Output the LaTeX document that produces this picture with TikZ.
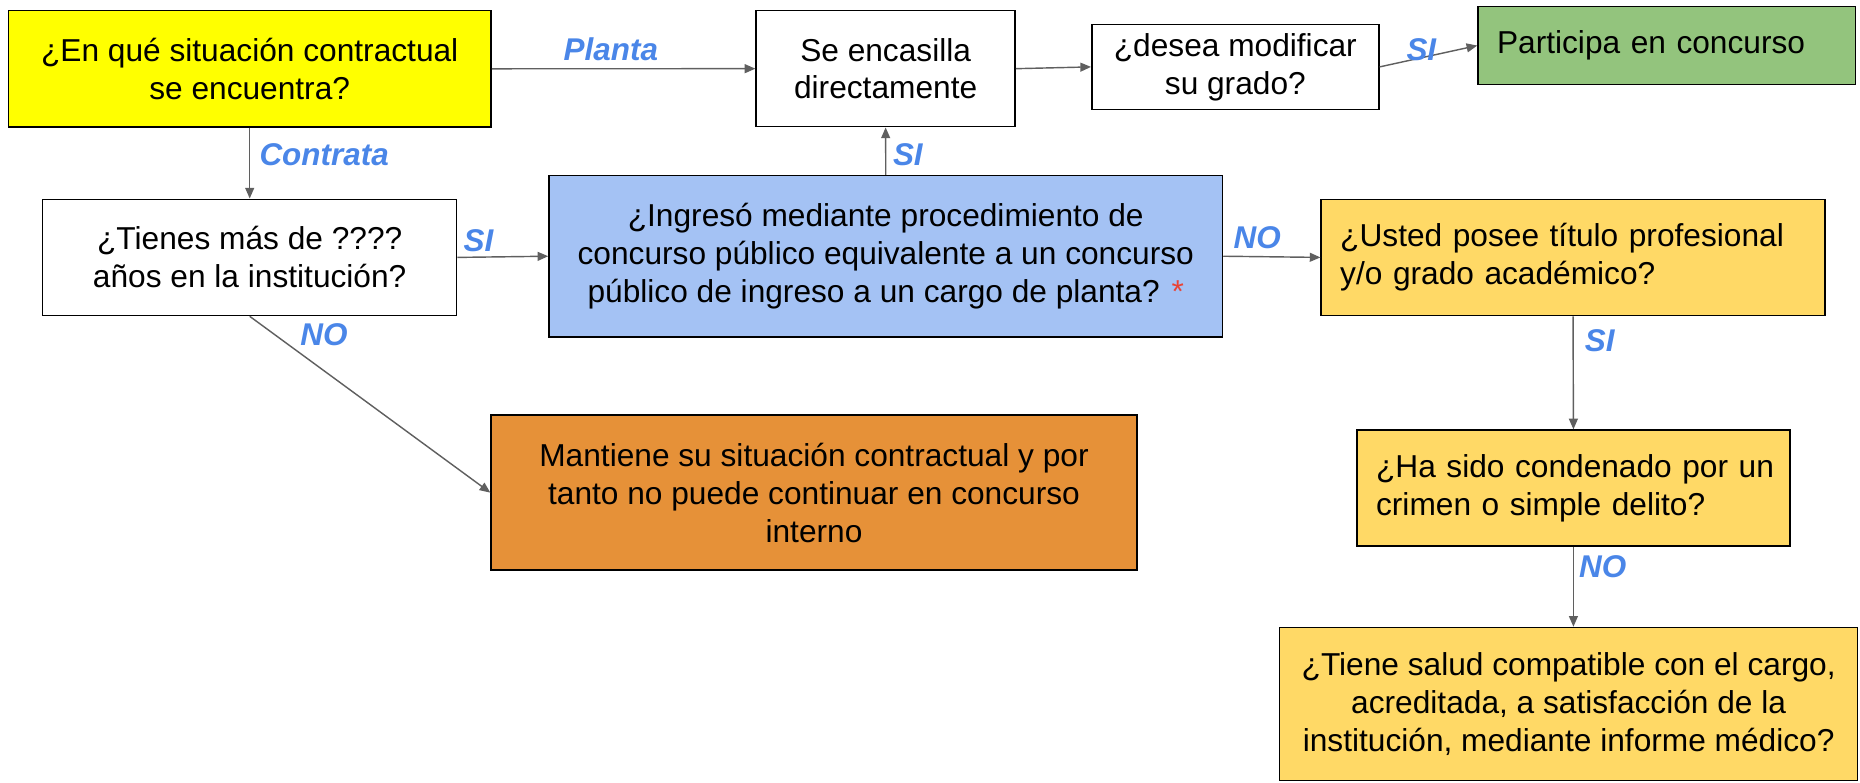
\documentclass[tikz,border=0pt]{standalone}
\usepackage{fontspec}
\setmainfont{Liberation Sans}
\usetikzlibrary{arrows.meta}
\definecolor{cyel}{HTML}{FFFF00}
\definecolor{cblue}{HTML}{A4C2F4}
\definecolor{corange}{HTML}{E69138}
\definecolor{cgold}{HTML}{FFD966}
\definecolor{cgreen}{HTML}{93C47D}
\definecolor{clabel}{HTML}{4A86E8}
\definecolor{carrow}{HTML}{5F5F5F}
\definecolor{cstar}{HTML}{EA4335}
\begin{document}
\begin{tikzpicture}[x=1pt,y=-1pt,
  font=\fontsize{26.7}{32}\selectfont,
  box/.style={draw=black, line width=1.3pt, rectangle, inner sep=0pt, align=center},
  lbox/.style={box, align=left, inner xsep=16pt, inner ysep=0pt},
  conn/.style={draw=carrow, line width=1.2pt, -{Triangle[length=9pt,width=7.5pt]}},
  lbl/.style={text=clabel, font=\fontsize{26.5}{32}\selectfont\bfseries\itshape, anchor=base west, inner sep=0pt}
]
\useasboundingbox (0,0) rectangle (1568,660);

% boxes
\node[box, fill=cyel, minimum width=407pt, minimum height=98pt] (ya) at (210.5,58) {¿En qué situación contractual\\se encuentra?};
\node[box, fill=white, minimum width=218.3pt, minimum height=97.8pt] (se) at (746.6,57.9) {Se encasilla\\directamente};
\node[box, fill=white, minimum width=242pt, minimum height=71.7pt] (desea) at (1041.4,56.4) {¿desea modificar\\su grado?};
\node[lbox, fill=cgreen, text width=286pt, minimum width=318pt, minimum height=65.5pt] (green) at (1405,38.4) {\mbox{Participa en concurso}};
\node[box, fill=white, minimum width=349pt, minimum height=98pt] (tienes) at (210.5,217) {¿Tienes más de ????\\años en la institución?};
\node[box, fill=cblue, minimum width=567.7pt, minimum height=136pt] (blue) at (746.7,216) {¿Ingresó mediante procedimiento de\\concurso público equivalente a un concurso\\público de ingreso a un cargo de planta? {\color{cstar}*}};
\node[lbox, fill=cgold, text width=392.6pt, minimum width=424.6pt, minimum height=98pt] (usted) at (1326.1,217) {\mbox{¿Usted posee título profesional}\\\mbox{y/o grado académico?}};
\node[lbox, fill=cgold, text width=332.7pt, minimum width=364.7pt, minimum height=97.8pt] (hasido) at (1326.4,411.5) {\mbox{¿Ha sido condenado por un}\\\mbox{crimen o simple delito?}};
\node[box, fill=cgold, minimum width=487.2pt, minimum height=129pt] (final) at (1322.4,593.5) {¿Tiene salud compatible con el cargo,\\acreditada, a satisfacción de la\\institución, mediante informe médico?};
\node[box, fill=corange, minimum width=544.4pt, minimum height=130.6pt] (orange) at (686.2,415.3) {Mantiene su situación contractual y por\\tanto no puede continuar en concurso\\interno};

% connectors
\draw[conn] (ya.east) -- (se.west);
\draw[conn] (ya.south) -- (tienes.north);
\draw[conn] (tienes.east) -- (blue.west);
\draw[conn] (tienes.south) -- (orange.west);
\draw[conn] (blue.north) -- (se.south);
\draw[conn] (se.east) -- (desea.west);
\draw[conn] (desea.east) -- (green.west);
\draw[conn] (blue.east) -- (usted.west);
\draw[conn] (usted.south) -- (hasido.north);
\draw[conn] (hasido.south) -- (hasido.south |- final.north);

% labels
\node[lbl] (lplanta) at (475,51) {Planta};
\node[lbl] (lcontrata) at (218.6,139.7) {Contrata};
\node[lbl] (lsi1) at (390.7,212.2) {SI};
\node[lbl] (lno1) at (253,291) {NO};
\node[lbl] (lsi2) at (752.6,139.7) {SI};
\node[lbl] (lno2) at (1039.8,209.4) {NO};
\node[lbl] (lsi3) at (1185.5,50.6) {SI};
\node[lbl] (lsi4) at (1335.8,296) {SI};
\node[lbl] (lno3) at (1331,487) {NO};
\end{tikzpicture}
\end{document}
